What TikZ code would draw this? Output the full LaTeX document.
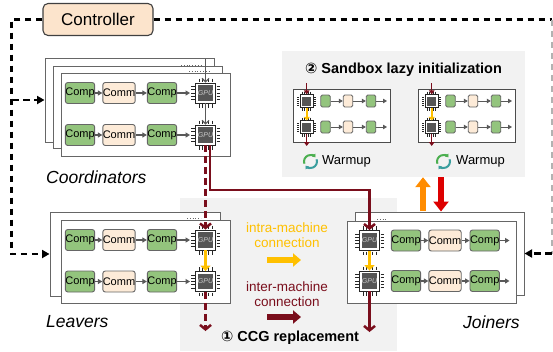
\documentclass[tikz,border=0pt]{standalone}
\usepackage{fontspec}
\setmainfont{Liberation Sans}
\newfontfamily\djv{DejaVu Sans}
\usetikzlibrary{arrows.meta,calc}

\definecolor{compgreen}{HTML}{93C47D}
\definecolor{commpeach}{HTML}{FDEBD8}
\definecolor{ctrlpeach}{HTML}{FCE4CC}
\definecolor{boxgray}{HTML}{666666}
\definecolor{shadebg}{HTML}{F2F2F2}
\definecolor{interred}{HTML}{7A0E1C}
\definecolor{intrayel}{HTML}{FFC000}
\definecolor{uporange}{HTML}{FF8C00}
\definecolor{downred}{HTML}{DD0000}
\definecolor{gpucore}{HTML}{555555}
\definecolor{flowgray}{HTML}{595959}
\definecolor{warmgreen}{HTML}{4CAF50}
\definecolor{warmteal}{HTML}{3A9E9E}

\tikzset{
  pin/.style={draw=black!85, line width=0.7pt},
  pics/gpu/.style={code={
    \foreach \i in {-6.4,-3.2,0,3.2,6.4}{
      \draw[pin] (-14.5,\i) -- (-11,\i);
      \draw[pin] (11,\i) -- (14.5,\i);
      \draw[pin] (\i,-14.5) -- (\i,-11);
      \draw[pin] (\i,11) -- (\i,14.5);
    }
    \node[draw=black!85, fill=white, line width=0.9pt, minimum size=20pt, inner sep=0] (-b) at (0,0) {};
    \node[fill=gpucore, minimum size=15.5pt, inner sep=0, text=black!20, font=\fontsize{7}{8}\selectfont\itshape] at (0,0) {GPU};
  }},
  pics/minigpu/.style={code={
    \foreach \i in {-4,-2,0,2,4}{
      \draw[pin, line width=0.5pt] (-9.5,\i) -- (-7.3,\i);
      \draw[pin, line width=0.5pt] (7.3,\i) -- (9.5,\i);
      \draw[pin, line width=0.5pt] (\i,-9.5) -- (\i,-7.3);
      \draw[pin, line width=0.5pt] (\i,7.3) -- (\i,9.5);
    }
    \node[draw=black!85, fill=white, line width=0.7pt, minimum size=12.5pt, inner sep=0] (-b) at (0,0) {};
    \node[fill=gpucore, minimum size=9pt, inner sep=0] at (0,0) {};
  }},
  pics/warm/.style={code={
    \draw[warmgreen, line width=2pt, -{Triangle[length=3pt,width=4.5pt]}] (200:6.5pt) arc[start angle=200, end angle=40, radius=6.5pt];
    \draw[warmteal, line width=2pt, -{Triangle[length=3pt,width=4.5pt]}] (20:6.5pt) arc[start angle=20, end angle=-140, radius=6.5pt];
  }}
}

\begin{document}
\begin{tikzpicture}[x=1pt,y=-1pt,
  machine/.style={draw=boxgray, fill=white, line width=1pt, inner sep=0},
  minimachine/.style={draw=black!70, fill=white, line width=1pt, inner sep=0},
  compbox/.style={draw=boxgray, fill=compgreen, line width=0.9pt, rounded corners=2.5pt, minimum width=28pt, minimum height=21pt, inner sep=0, font=\fontsize{11}{12}\selectfont},
  commbox/.style={compbox, fill=commpeach},
  minicomp/.style={draw=boxgray, fill=compgreen, line width=0.8pt, rounded corners=1.5pt, minimum width=9.5pt, minimum height=12pt, inner sep=0},
  minicomm/.style={minicomp, fill=commpeach},
  flow/.style={draw=flowgray, line width=1.4pt, -{Triangle[length=4.5pt,width=5pt]}},
  miniflow/.style={draw=flowgray, line width=0.9pt, -{Triangle[length=4pt,width=4.5pt]}},
  gflow/.style={draw=flowgray, line width=1.1pt, -{Straight Barb[length=3.5pt,width=7pt]}},
  inter/.style={draw=interred, line width=2.5pt, -{Straight Barb[length=4.5pt,width=11pt]}},
  interdash/.style={inter, dash pattern=on 7pt off 4pt},
  intra/.style={draw=intrayel, line width=2.8pt, -{Triangle[length=5.5pt,width=10pt]}},
  miniinter/.style={draw=interred, line width=1.4pt, -{Triangle[length=4pt,width=5.5pt]}},
  miniintra/.style={draw=intrayel, line width=1.6pt, -{Triangle[length=3.5pt,width=6pt]}},
  cdash/.style={draw=black, line width=2.2pt, dash pattern=on 6.5pt off 4.5pt},
  cdarrow/.style={cdash, -{Triangle[length=7.5pt,width=8pt]}},
  lab/.style={font=\fontsize{17.5}{19}\selectfont\itshape, inner sep=0, anchor=west},
  legtext/.style={font=\fontsize{13.5}{15}\selectfont, inner sep=0, align=center},
  bigarrow/.style={line width=6.5pt, -{Triangle[length=10pt,width=15pt]}},
  legarrow/.style={line width=6.5pt, -{Triangle[length=8pt,width=13pt]}},
  hidpins/.style={draw=black!60, line width=0.8pt, dotted}
]
\useasboundingbox (0,0) rectangle (553,351);

% shaded regions
\node[fill=shadebg, minimum width=217pt, minimum height=153pt, inner sep=0] (ccg) at (288.5,274.5) {};
\node[fill=shadebg, minimum width=243pt, minimum height=126pt, inner sep=0] (sbx) at (403.5,114) {};

% controller
\node[draw=black!75, fill=ctrlpeach, rounded corners=5pt, line width=1.1pt, minimum width=110pt, minimum height=32pt, font=\fontsize{17}{19}\selectfont] (ctrl) at (98,19.5) {Controller};

% coordinators
\node[machine, minimum width=169pt, minimum height=84pt] (cbk) at (129.5,100) {};
\node[machine, minimum width=169pt, minimum height=82pt] (cmd) at (137.5,107) {};
\node[machine, minimum width=169pt, minimum height=83pt] (cfr) at (145.5,114.5) {};
\draw[hidpins] (181,65) -- (201,65);
\draw[hidpins] (189,71) -- (209,71);
\node[compbox] (ca1) at (80,93) {Comp};
\node[commbox] (cb1) at (119,93) {Comm};
\node[compbox] (cc1) at (162,93) {Comp};
\pic (c1) at (205.5,93) {gpu};
\node[compbox] (ca2) at (80,135) {Comp};
\node[commbox] (cb2) at (119,135) {Comm};
\node[compbox] (cc2) at (162,135) {Comp};
\pic (c2) at (205.5,135) {gpu};
\foreach \r in {1,2}{
  \draw[flow] (ca\r.east) -- (cb\r.west);
  \draw[flow] (cb\r.east) -- (cc\r.west);
  \draw[flow] (cc\r.east) -- ([xshift=-5pt]c\r-b.west);
}
\coordinate (ctop) at (205.5,59);
\draw[gflow] (ctop) -- (c1-b.north);
\draw[gflow] (c1-b.south) -- (c2-b.north);
\node[lab] (tcoord) at (46,177) {Coordinators};

% leavers
\node[machine, minimum width=170pt, minimum height=84pt] (lbk) at (135,254) {};
\node[machine, minimum width=169pt, minimum height=83pt] (lfr) at (145.5,261.5) {};
\draw[hidpins] (187,218.5) -- (201,218.5);
\node[compbox] (la1) at (80,240) {Comp};
\node[commbox] (lb1) at (119,240) {Comm};
\node[compbox] (lc1) at (162,240) {Comp};
\pic (l1) at (205.5,240) {gpu};
\node[compbox] (la2) at (80,281.5) {Comp};
\node[commbox] (lb2) at (119,281.5) {Comm};
\node[compbox] (lc2) at (162,281.5) {Comp};
\pic (l2) at (205.5,281.5) {gpu};
\foreach \r in {1,2}{
  \draw[flow] (la\r.east) -- (lb\r.west);
  \draw[flow] (lb\r.east) -- (lc\r.west);
  \draw[flow] (lc\r.east) -- ([xshift=-5pt]l\r-b.west);
}
\node[lab] (tleav) at (46,322) {Leavers};

% joiners
\node[machine, minimum width=169pt, minimum height=83pt] (jbk) at (439.5,253.5) {};
\node[machine, minimum width=169pt, minimum height=82pt] (jfr) at (431.5,262) {};
\draw[hidpins] (377,219.5) -- (388,219.5);
\pic (j1) at (369.5,240.5) {gpu};
\node[compbox] (ja1) at (406,240.5) {Comp};
\node[commbox] (jb1) at (445,240.5) {Comm};
\node[compbox] (jc1) at (484.7,240.5) {Comp};
\pic (j2) at (369.5,281) {gpu};
\node[compbox] (ja2) at (406,281) {Comp};
\node[commbox] (jb2) at (445,281) {Comm};
\node[compbox] (jc2) at (484.7,281) {Comp};
\coordinate (je1) at (509.5,240.5);
\coordinate (je2) at (509.5,281);
\foreach \r in {1,2}{
  \draw[flow] (ja\r.east) -- (jb\r.west);
  \draw[flow] (jb\r.east) -- (jc\r.west);
  \draw[flow] (jc\r.east) -- (je\r);
}
\node[lab] (tjoin) at (463,322) {Joiners};

% sandbox
\node[font=\fontsize{14.5}{16}\selectfont\bfseries, inner sep=0] (sbt) at (403.5,70) {{\djv\bfseries ②} Sandbox lazy initialization};
\foreach \s/\dx in {L/0,R/125}{
  \node[minimachine, minimum width=97pt, minimum height=53pt] (mb\s) at (341.5+\dx,115.7) {};
  \pic (m\s1) at (306.7+\dx,101) {minigpu};
  \pic (m\s2) at (306.7+\dx,127) {minigpu};
  \foreach \r/\yy in {1/101,2/127}{
    \node[minicomp] (mx\s\r) at (325.5+\dx,\yy) {};
    \node[minicomm] (my\s\r) at (348+\dx,\yy) {};
    \node[minicomp] (mz\s\r) at (371+\dx,\yy) {};
    \coordinate (me\s\r) at (387+\dx,\yy);
    \draw[miniflow] (mx\s\r.east) -- (my\s\r.west);
    \draw[miniflow] (my\s\r.east) -- (mz\s\r.west);
    \draw[miniflow] (mz\s\r.east) -- (me\s\r);
  }
  \coordinate (mt\s) at (306.7+\dx,83);
  \coordinate (mo\s) at (306.7+\dx,146);
  \draw[miniinter] (mt\s) -- (m\s1-b.north);
  \draw[miniintra] (m\s1-b.south) -- (m\s2-b.north);
  \draw[miniinter] (m\s2-b.south) -- (mo\s);
}
\pic (wL) at (310.5,161.5) {warm};
\pic (wR) at (443.5,161.5) {warm};
\node[font=\fontsize{13}{14}\selectfont, inner sep=0, anchor=west] (twL) at (322,161.5) {Warmup};
\node[font=\fontsize{13}{14}\selectfont, inner sep=0, anchor=west] (twR) at (456,161.5) {Warmup};

% sandbox <-> joiners
\coordinate (oa) at (423,211);
\coordinate (rd) at (441,177);
\draw[bigarrow, draw=uporange] (oa) -- (oa |- sbx.south);
\draw[bigarrow, draw=downred] (rd) -- (rd |- jbk.north);

% inter/intra connections
\draw[interdash] (c2-b.south) -- (l1-b.north);
\draw[intra] (l1-b.south) -- (l2-b.north);
\coordinate (lend) at (205.5,331);
\draw[interdash] (l2-b.south) -- (lend);
\coordinate (rturn) at (300,190);
\draw[inter] ([xshift=4.5pt]c2-b.south) |- (rturn) -| (j1-b.north);
\draw[intra] (j1-b.south) -- (j2-b.north);
\coordinate (jend) at (369.5,332);
\draw[inter] (j2-b.south) -- (jend);

% legend
\node[legtext, text=intrayel] (tintra) at (287,235.5) {intra-machine\\connection};
\coordinate (ya) at (267,260);
\coordinate (yb) at (301,260);
\draw[legarrow, draw=intrayel] (ya) -- (yb);
\node[legtext, text=interred] (tinter) at (287,294.5) {inter-machine\\connection};
\coordinate (ra) at (267,317);
\coordinate (rb) at (301,317);
\draw[legarrow, draw=interred] (ra) -- (rb);
\node[font=\fontsize{14.5}{16}\selectfont\bfseries, inner sep=0] (tccg) at (290,338) {{\djv\bfseries ①} CCG replacement};

% controller dashed links
\draw[cdarrow] (ctrl.west) -- ++(-31,0) |- (lbk.west);
\coordinate (cbr) at (12,100);
\draw[cdarrow] (cbr) -- (cbk.west);
\coordinate (rtop) at (551.8,19.5);
\coordinate (rbot) at (551.8,253.5);
\draw[cdash] (ctrl.east) -- (rtop);
\draw[cdash, draw=black!30] (rtop) -- (rbot);
\draw[cdarrow] (rbot) -- (jbk.east);
\end{tikzpicture}
\end{document}
